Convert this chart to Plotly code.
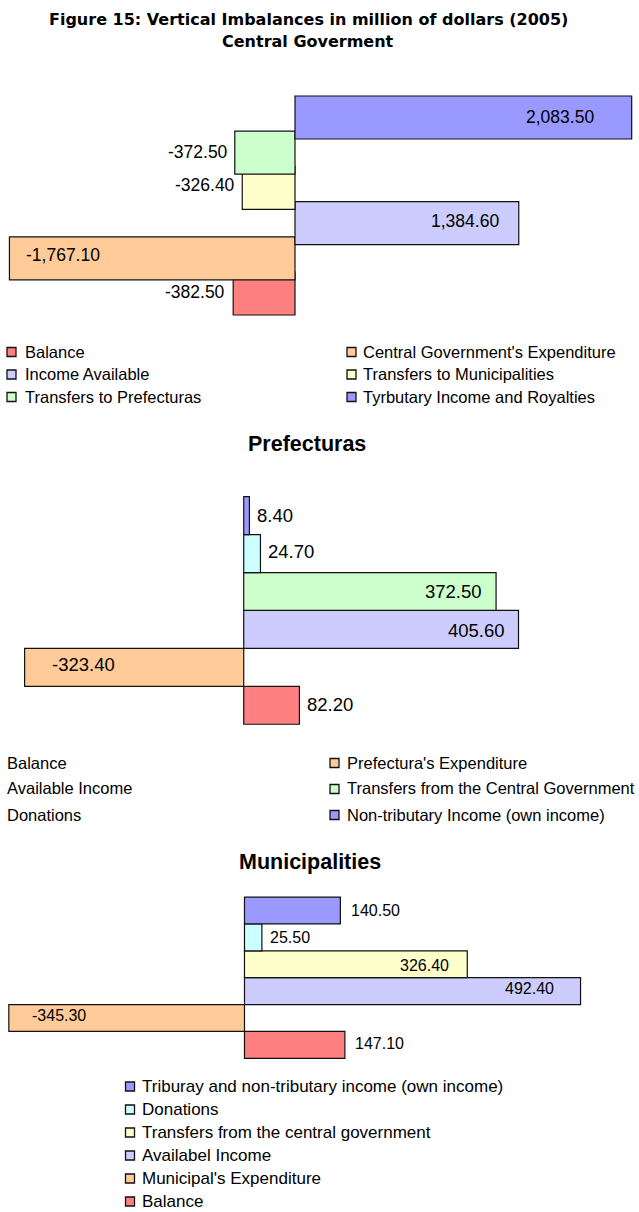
import plotly.graph_objects as go

W, H = 639, 1212

# ---------------- DATA ----------------
central_cats = ["Balance", "Central Government's Expenditure", "Income Available",
                "Transfers to Municipalities", "Transfers to Prefecturas",
                "Tyrbutary Income and Royalties"]               # bottom -> top
central_vals = [-382.5, -1767.1, 1384.6, -326.4, -372.5, 2083.5]

pref_cats = ["Balance", "Prefectura's Expenditure", "Available Income",
             "Transfers from the Central Government", "Donations",
             "Non-tributary Income (own income)"]              # bottom -> top
pref_vals = [82.2, -323.4, 405.6, 372.5, 24.7, 8.4]

muni_cats = ["Balance", "Municipal's Expenditure", "Availabel Income",
             "Transfers from the central government", "Donations",
             "Triburay and non-tributary income (own income)"]  # bottom -> top
muni_vals = [147.1, -345.3, 492.4, 326.4, 25.5, 140.5]

title_main = "Figure 15: Vertical Imbalances in million of dollars (2005)"
panel_titles = ["Central Goverment", "Prefecturas", "Municipalities"]

# ---------------- STYLE ----------------
RED, ORANGE, LAV, YEL, GRN, PUR, CYAN = ("#FF8080", "#FFCC99", "#CCCCFF", "#FFFFCC",
                                         "#CCFFCC", "#9999FF", "#CCFFFF")
central_colors = [RED, ORANGE, LAV, YEL, GRN, PUR]
pref_colors = [RED, ORANGE, LAV, GRN, CYAN, PUR]
muni_colors = [RED, ORANGE, LAV, YEL, CYAN, PUR]

FONT = "Liberation Sans, Arial, sans-serif"
TFONT = "DejaVu Sans, Liberation Sans, Arial, sans-serif"


def px(x):
    return x / W


def py(y):
    return 1 - y / H


fig = go.Figure()

panels = [
    dict(cats=central_cats, vals=central_vals, colors=central_colors, ax="",
         xr=[-1813.1, 2116.3], ypx=[90, 321], yr=[-0.781, 5.781], bw=1.2216,
         lsize=17.5,
         # (anchor side, xshift, yshift) per bar label, bottom -> top
         lab=[("right", -6, 2), ("left", 15, 3), ("right", -17.5, 2),
              ("right", -5.6, 3), ("right", -5, 1), ("right", -36, 0)]),
    dict(cats=pref_cats, vals=pref_vals, colors=pref_colors, ax="2",
         xr=[-356.8, 580.5], ypx=[490, 731], yr=[-0.678, 5.676], bw=1.0,
         lsize=18.5,
         lab=[("left", 6, 1), ("left", 25, 3), ("right", -11.5, -1.5),
              ("right", -12.4, 0), ("left", 5.6, 2), ("left", 5.6, 0)]),
    dict(cats=muni_cats, vals=muni_vals, colors=muni_colors, ax="3",
         xr=[-355.3, 575.1], ypx=[891, 1064], yr=[-0.711, 5.725], bw=1.0,
         lsize=16,
         lab=[("left", 7.7, 1.5), ("left", 21, 3), ("right", -25, 3),
              ("right", -16.7, -1.5), ("left", 5.6, 0), ("left", 8.6, 0)]),
]

annotations = []
shapes = []
layout_axes = {}

for p in panels:
    ax = p["ax"]
    xa, ya = "x" + ax, "y" + ax
    for cat, val, col in zip(p["cats"], p["vals"], p["colors"]):
        fig.add_trace(go.Bar(
            x=[val], y=[cat], orientation="h", width=p["bw"],
            marker=dict(color=col, line=dict(color="#111111", width=1.2)),
            xaxis=xa, yaxis=ya, showlegend=False, hoverinfo="skip"))
    for cat, val, (side, xs, ys) in zip(p["cats"], p["vals"], p["lab"]):
        annotations.append(dict(
            x=val, y=cat, xref=xa, yref=ya, text=f"{val:,.2f}", showarrow=False,
            xanchor=side, yanchor="middle", xshift=xs, yshift=ys,
            font=dict(family=FONT, size=p["lsize"], color="black")))
    layout_axes["xaxis" + ax] = dict(domain=[px(2), px(637)], range=p["xr"],
                                     anchor=ya, visible=False, fixedrange=True)
    layout_axes["yaxis" + ax] = dict(domain=[py(p["ypx"][1]), py(p["ypx"][0])],
                                     range=p["yr"], anchor=xa, visible=False,
                                     type="category", categoryorder="array",
                                     categoryarray=p["cats"], fixedrange=True)


# ---------------- TITLES ----------------
def text(x, y, s, size, family=FONT, bold=False, anchor="left"):
    annotations.append(dict(
        x=px(x), y=py(y), xref="paper", yref="paper", showarrow=False,
        text=f"<b>{s}</b>" if bold else s, xanchor=anchor, yanchor="middle",
        font=dict(family=family, size=size, color="black")))


text(308, 20, title_main, 16, TFONT, True, "center")
text(308, 41.5, panel_titles[0], 16, TFONT, True, "center")
text(307, 444, panel_titles[1], 21.5, FONT, True, "center")
text(310, 861.7, panel_titles[2], 21.5, FONT, True, "center")


# ---------------- LEGENDS ----------------
def legend_item(sq_x, txt_x, yc, label, color, box=True, size=16.5):
    if box:
        shapes.append(dict(type="rect", xref="paper", yref="paper",
                           x0=px(sq_x), x1=px(sq_x + 9), y0=py(yc + 4.5), y1=py(yc - 4.5),
                           fillcolor=color, line=dict(color="#111111", width=1.3)))
    text(txt_x, yc - 0.5, label, size)


# Central: two columns, three rows
c_rows = [352, 374.5, 397]
c_cols = [(7, 22.7), (347, 361)]
for k, cat in enumerate(central_cats):
    r, c = divmod(k, 2)
    legend_item(c_cols[c][0], c_cols[c][1], c_rows[r], cat, central_colors[k])

# Prefecturas: left column shows text only (markers cut off), right column with markers
p_rows = [763, 789, 815]
p_left = ["Balance", "Available Income", "Donations"]
p_right = ["Prefectura's Expenditure", "Transfers from the Central Government",
           "Non-tributary Income (own income)"]
for r, cat in enumerate(p_left):
    legend_item(0, 5, p_rows[r], cat, None, box=False)
for r, cat in enumerate(p_right):
    legend_item(330, 345, p_rows[r], cat, pref_colors[pref_cats.index(cat)])

# Municipalities: one column, top -> bottom
m_rows = [1086.5, 1109.5, 1132.5, 1155.5, 1178.5, 1201.5]
for r, cat in enumerate(reversed(muni_cats)):
    legend_item(125.5, 140, m_rows[r], cat, muni_colors[muni_cats.index(cat)], size=17)

fig.update_layout(
    width=W, height=H, margin=dict(l=0, r=0, t=0, b=0),
    paper_bgcolor="white", plot_bgcolor="white",
    barmode="overlay", showlegend=False,
    annotations=annotations, shapes=shapes, **layout_axes)

fig.write_html("out.html",
               config={"displayModeBar": False, "staticPlot": True},
               post_script="document.body.style.margin='0px';"
                           "document.body.style.overflow='hidden';")
